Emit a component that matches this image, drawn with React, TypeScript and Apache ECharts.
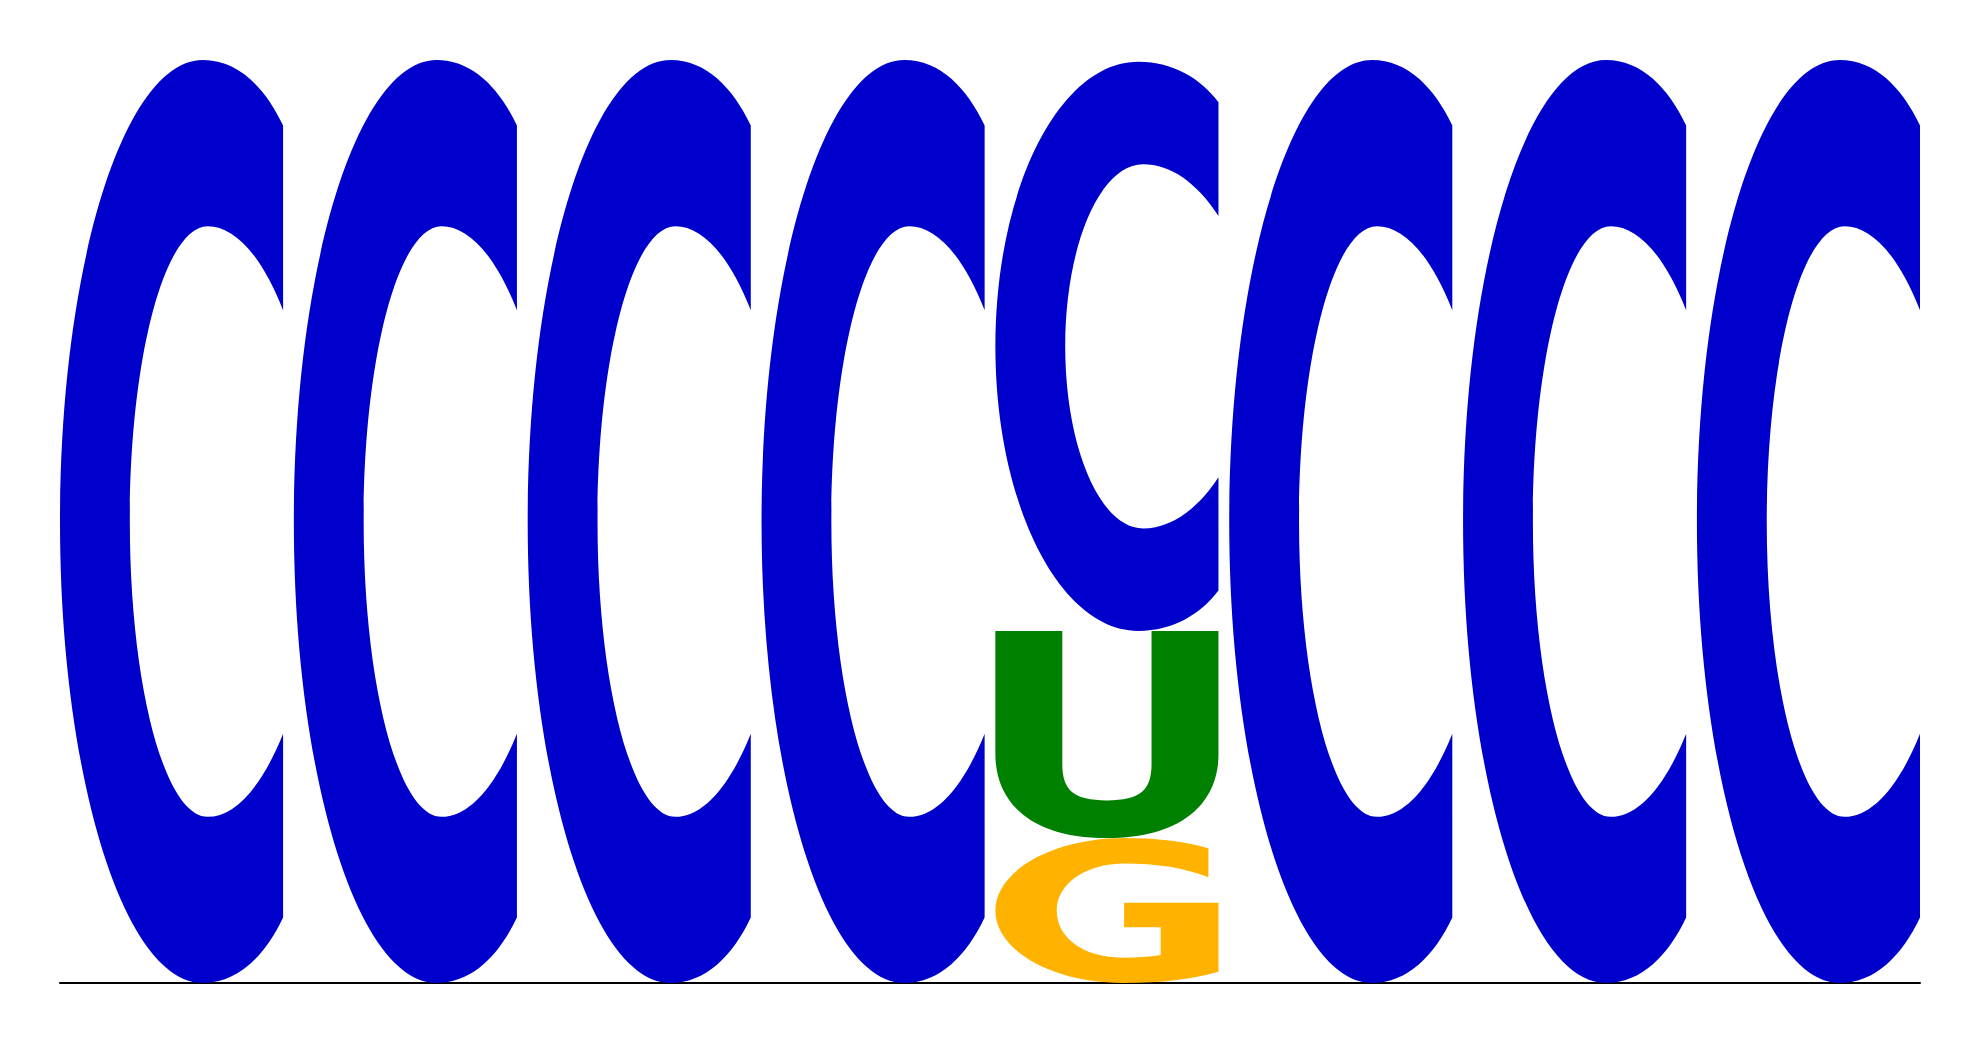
import React, { useEffect, useRef } from "react";
import * as echarts from "echarts";

// Sequence logo data (bits), positions 1..8
const positions = [1, 2, 3, 4, 5, 6, 7, 8];
const letters = ["G", "U", "C"];
const heightG = [0, 0, 0, 0, 0.314, 0, 0, 0];
const heightU = [0, 0, 0, 0, 0.449, 0, 0, 0];
const heightC = [2, 2, 2, 2, 1.233, 2, 2, 2];
const letterColors: Record<string, string> = { C: "#0000CC", U: "#008000", G: "#FFB300" };

const GAP = 0.023;

const PATHS: Record<string, string> = {
  C: "M1000,71 C920,30 800,0 640,0 C287,0 0,224 0,500 C0,776 287,1000 640,1000 C800,1000 920,970 1000,929 L1000,730 C900,790 780,820 662,820 C469,820 313,677 313,500 C313,323 469,180 662,180 C780,180 900,210 1000,271 Z",
  U: "M0,0 L300,0 L300,643 C300,770 350,818 500,818 C650,818 700,770 700,643 L700,0 L1000,0 L1000,596 C1000,820 850,1000 500,1000 C150,1000 0,820 0,596 Z",
  G: "M955,71 C850,22 720,0 580,0 C260,0 0,224 0,500 C0,776 255,1000 570,1000 C750,1000 890,972 1000,922 L1000,446 L577,446 L577,616 L741,616 L741,807 C690,820 630,825 570,825 C395,825 275,690 275,500 C275,320 400,175 580,175 C720,175 850,205 955,271 Z",
};

function buildData() {
  const heights: Record<string, number[]> = { G: heightG, U: heightU, C: heightC };
  const data: any[] = [];
  positions.forEach((_, i) => {
    const col = letters
      .map((l) => ({ l, h: heights[l][i] }))
      .filter((d) => d.h > 0)
      .sort((a, b) => a.h - b.h);
    let y = 0;
    col.forEach((d) => {
      data.push({ value: [i, y, y + d.h], letter: d.l });
      y += d.h;
    });
  });
  return data;
}

export default function App() {
  const ref = useRef<HTMLDivElement>(null);
  useEffect(() => {
    if (!ref.current) return;
    const chart = echarts.init(ref.current, undefined, { renderer: "svg" });
    const data = buildData();
    chart.setOption({
      animation: false,
      backgroundColor: "#ffffff",
      grid: { left: 60, right: 60, top: 60, bottom: 61 },
      xAxis: {
        type: "value",
        min: GAP,
        max: positions.length - GAP,
        axisLine: { show: true, onZero: true, lineStyle: { color: "#000", width: 2 } },
        axisTick: { show: false },
        axisLabel: { show: false },
        splitLine: { show: false },
      },
      yAxis: {
        type: "value",
        min: 0,
        max: 2,
        show: false,
        splitLine: { show: false },
      },
      series: [
        {
          type: "custom",
          data: data,
          z: 1,
          renderItem: (params: any, api: any) => {
            const item = data[params.dataIndex];
            const i = api.value(0);
            const p0 = api.coord([i + GAP, api.value(2)]);
            const p1 = api.coord([i + 1 - GAP, api.value(1)]);
            return {
              type: "path",
              shape: {
                pathData: PATHS[item.letter],
                x: p0[0],
                y: p0[1],
                width: p1[0] - p0[0],
                height: p1[1] - p0[1],
                layout: "cover",
              },
              style: { fill: letterColors[item.letter] },
            };
          },
        },
      ],
    });
    return () => chart.dispose();
  }, []);
  return (
    <div
      ref={ref}
      style={{ position: "fixed", left: 0, top: 0, width: 1980, height: 1044, background: "#fff" }}
    />
  );
}
